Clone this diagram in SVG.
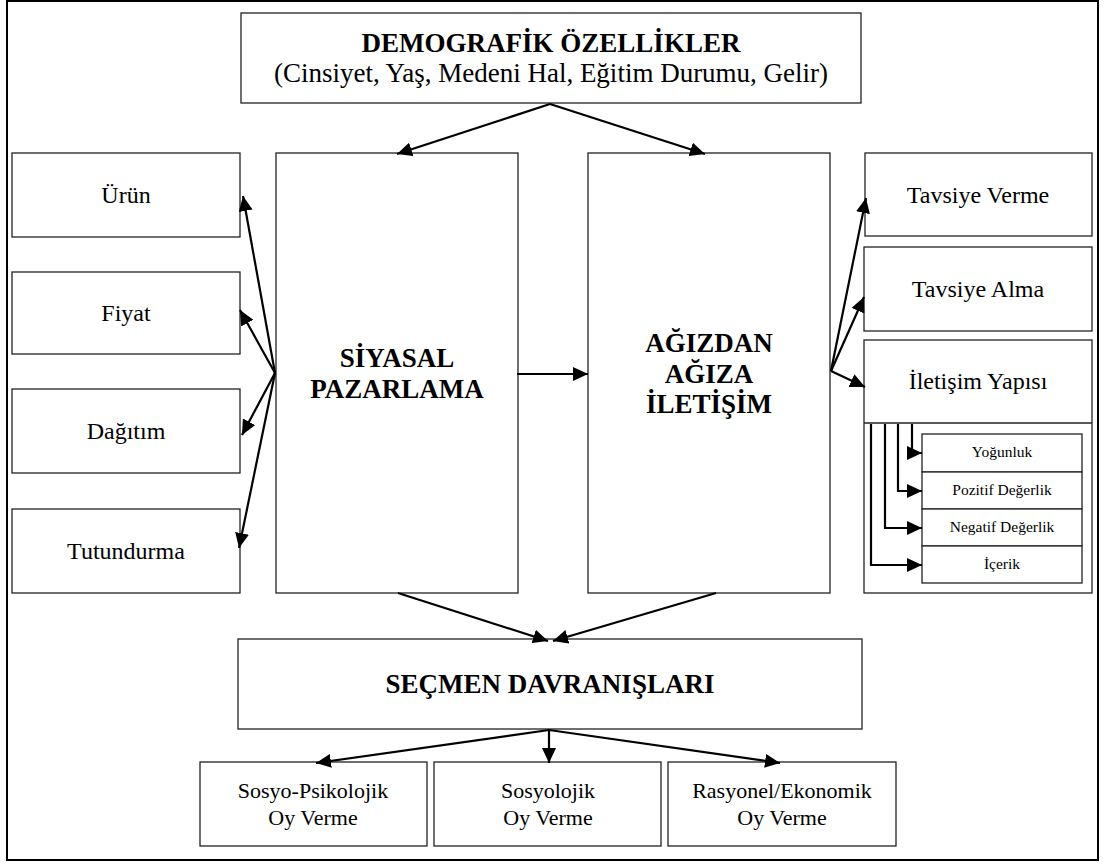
<svg xmlns="http://www.w3.org/2000/svg" width="1106" height="865" viewBox="0 0 1106 865">
  <defs>
    <marker id="arrow" markerUnits="userSpaceOnUse" markerWidth="15" markerHeight="14" refX="15" refY="7" orient="auto">
      <path d="M0,0 L15,7 L0,14 z" fill="#000"/>
    </marker>
    <style>
      .box { fill: #fff; stroke: #222; stroke-width: 1.3; }
      .frame { fill: #fff; stroke: #000; stroke-width: 2; }
      .t { font-family: "Liberation Serif", "Times New Roman", serif; fill: #000; text-anchor: middle; }
      .b { font-weight: bold; font-size: 27px; }
      .sub { font-size: 27px; }
      .r { font-size: 24px; }
      .s { font-size: 22px; }
      .xs { font-size: 15.5px; }
      .con { fill: none; stroke: #000; stroke-width: 2.2; marker-end: url(#arrow); }
    </style>
  </defs>

  <!-- outer frame -->
  <rect class="frame" x="7" y="1" width="1091" height="859"/>

  <!-- top: demographic features -->
  <g id="demografik">
    <rect class="box" x="241" y="13" width="620" height="90"/>
    <text class="t b" x="551" y="52">DEMOGRAFİK ÖZELLİKLER</text>
    <text class="t sub" x="551" y="82">(Cinsiyet, Yaş, Medeni Hal, Eğitim Durumu, Gelir)</text>
  </g>

  <!-- marketing mix -->
  <g id="urun">
    <rect class="box" x="12" y="153" width="228" height="84"/>
    <text class="t r" x="126" y="203">Ürün</text>
  </g>
  <g id="fiyat">
    <rect class="box" x="12" y="272" width="228" height="82"/>
    <text class="t r" x="126" y="321">Fiyat</text>
  </g>
  <g id="dagitim">
    <rect class="box" x="12" y="389" width="228" height="84"/>
    <text class="t r" x="126" y="439">Dağıtım</text>
  </g>
  <g id="tutundurma">
    <rect class="box" x="12" y="509" width="228" height="84"/>
    <text class="t r" x="126" y="559">Tutundurma</text>
  </g>

  <!-- central blocks -->
  <g id="siyasal-pazarlama">
    <rect class="box" x="276" y="153" width="242" height="440"/>
    <text class="t b" x="397" y="367">SİYASAL</text>
    <text class="t b" x="397" y="398">PAZARLAMA</text>
  </g>
  <g id="agizdan-agiza">
    <rect class="box" x="588" y="153" width="242" height="440"/>
    <text class="t b" x="709" y="352">AĞIZDAN</text>
    <text class="t b" x="709" y="383">AĞIZA</text>
    <text class="t b" x="709" y="413">İLETİŞİM</text>
  </g>

  <!-- word-of-mouth dimensions -->
  <g id="tavsiye-verme">
    <rect class="box" x="865" y="153" width="227" height="83"/>
    <text class="t r" x="978" y="203">Tavsiye Verme</text>
  </g>
  <g id="tavsiye-alma">
    <rect class="box" x="864" y="247" width="228" height="84"/>
    <text class="t r" x="978" y="297">Tavsiye Alma</text>
  </g>
  <g id="iletisim-yapisi">
    <rect class="box" x="864" y="340" width="228" height="253"/>
    <line x1="864" y1="423" x2="1092" y2="423" stroke="#222" stroke-width="1.3"/>
    <text class="t r" x="978" y="389">İletişim Yapısı</text>
  </g>
  <g id="yogunluk">
    <rect class="box" x="922" y="434" width="160" height="38"/>
    <text class="t xs" x="1002" y="457">Yoğunluk</text>
  </g>
  <g id="pozitif">
    <rect class="box" x="922" y="472" width="160" height="37"/>
    <text class="t xs" x="1002" y="495">Pozitif Değerlik</text>
  </g>
  <g id="negatif">
    <rect class="box" x="922" y="509" width="160" height="37"/>
    <text class="t xs" x="1002" y="532">Negatif Değerlik</text>
  </g>
  <g id="icerik">
    <rect class="box" x="922" y="546" width="160" height="37"/>
    <text class="t xs" x="1002" y="569">İçerik</text>
  </g>

  <!-- voter behaviour -->
  <g id="secmen">
    <rect class="box" x="238" y="639" width="624" height="90"/>
    <text class="t b" x="550" y="693">SEÇMEN DAVRANIŞLARI</text>
  </g>
  <g id="sosyo-psikolojik">
    <rect class="box" x="200" y="762" width="227" height="84"/>
    <text class="t s" x="313" y="798">Sosyo-Psikolojik</text>
    <text class="t s" x="313" y="825">Oy Verme</text>
  </g>
  <g id="sosyolojik">
    <rect class="box" x="434" y="762" width="227" height="84"/>
    <text class="t s" x="548" y="798">Sosyolojik</text>
    <text class="t s" x="548" y="825">Oy Verme</text>
  </g>
  <g id="rasyonel">
    <rect class="box" x="668" y="762" width="228" height="84"/>
    <text class="t s" x="782" y="798">Rasyonel/Ekonomik</text>
    <text class="t s" x="782" y="825">Oy Verme</text>
  </g>

  <!-- connectors, drawn over the boxes -->
  <g id="connectors">
    <line class="con" x1="550" y1="104" x2="397" y2="154"/>
    <line class="con" x1="550" y1="104" x2="705" y2="154"/>

    <line class="con" x1="275" y1="373" x2="243" y2="196"/>
    <line class="con" x1="275" y1="373" x2="240" y2="310"/>
    <line class="con" x1="275" y1="373" x2="242" y2="435"/>
    <line class="con" x1="275" y1="373" x2="239" y2="548"/>

    <line class="con" x1="517" y1="374" x2="588" y2="374"/>

    <line class="con" x1="831" y1="371" x2="866" y2="198"/>
    <line class="con" x1="831" y1="371" x2="864" y2="297"/>
    <line class="con" x1="831" y1="371" x2="865" y2="387"/>

    <path class="con" d="M912,424 V453 H922"/>
    <path class="con" d="M898,424 V491 H922"/>
    <path class="con" d="M885,424 V528 H922"/>
    <path class="con" d="M871,424 V565 H922"/>

    <line class="con" x1="398" y1="593" x2="548" y2="641"/>
    <line class="con" x1="716" y1="593" x2="553" y2="641"/>

    <line class="con" x1="549" y1="730" x2="316" y2="763"/>
    <line class="con" x1="549" y1="730" x2="549" y2="763"/>
    <line class="con" x1="549" y1="730" x2="780" y2="763"/>
  </g>
</svg>
